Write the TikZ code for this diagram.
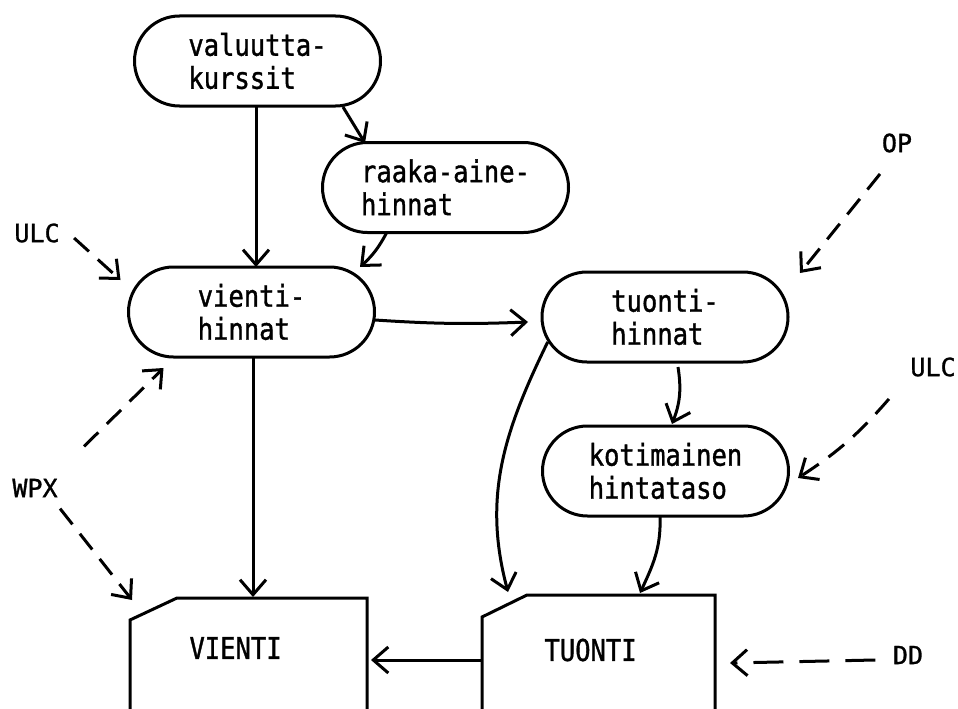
\documentclass[tikz,border=0pt]{standalone}
\usepackage{fontspec}
\newfontfamily\twfont[FakeStretch=0.85,FakeBold=1.2]{DejaVu Sans Mono}
\newfontfamily\lblfont[FakeBold=1.2]{DejaVu Sans Mono}
\usetikzlibrary{arrows.meta,shapes.misc,calc}
\begin{document}
\begin{tikzpicture}[x=1pt,y=-1pt,line width=3pt,
  pill/.style={rounded rectangle, draw, line width=3pt, minimum height=90pt,
    minimum width=246pt, align=left, inner sep=0pt,
    font=\twfont\fontsize{30}{33}\selectfont},
  conn/.style={-{Straight Barb[length=15pt,width=26pt]}, line width=3pt},
  dconn/.style={conn, dash pattern=on 20pt off 12pt},
  lbl/.style={font=\lblfont\fontsize{25}{27}\selectfont, inner sep=0pt},
  boxtxt/.style={font=\twfont\fontsize{30}{33}\selectfont, inner sep=0pt, anchor=west}
]
\useasboundingbox (0,0) rectangle (958,709);

% rounded nodes
\node[pill] (valuutta) at (257.5,61) {valuutta-\\kurssit};
\node[pill] (raaka) at (445.5,187.5) {raaka-aine-\\hinnat};
\node[pill] (vienti) at (251.5,312) {vienti-\\hinnat};
\node[pill] (tuonti) at (665,317) {tuonti-\\hinnat};
\node[pill] (koti) at (665.5,471) {kotimainen\\hintataso};

% card boxes
\node[boxtxt] (vientitxt) at (188,648) {VIENTI};
\node[boxtxt] (tuontitxt) at (543,650) {TUONTI};
\draw ($(vientitxt.west)+(-58,61)$) -- ($(vientitxt.west)+(-58,-28)$)
  -- ($(vientitxt.west)+(-11,-50)$) -- ($(vientitxt.west)+(179,-50)$)
  -- ($(vientitxt.west)+(179,61)$);
\draw ($(tuontitxt.west)+(-61,59)$) -- ($(tuontitxt.west)+(-61,-33)$)
  -- ($(tuontitxt.west)+(-16,-55)$) -- ($(tuontitxt.west)+(172,-55)$)
  -- ($(tuontitxt.west)+(172,59)$);

% labels
\node[lbl] (ulcL) at (37,233) {ULC};
\node[lbl] (wpx) at (35,488) {WPX};
\node[lbl] (op) at (897,143) {OP};
\node[lbl] (ulcR) at (933,367) {ULC};
\node[lbl] (dd) at (908,655) {DD};

% solid connectors
\draw[conn] ($(valuutta.center)+(-1.5,46)$) -- ($(vienti.center)+(4.5,-45)$);
\draw[conn] ($(valuutta.center)+(85.5,46)$) -- ($(raaka.center)+(-80.5,-44.5)$);
\draw[conn] ($(raaka.center)+(-58.5,44.5)$) to[bend left=10] ($(vienti.center)+(108.5,-45)$);
\draw[conn] ($(vienti.center)+(123.5,8)$) to[bend right=3] ($(tuonti.center)+(-137,5)$);
\draw[conn] ($(tuonti.center)+(13,50)$) to[bend left=15] ($(koti.center)+(6.5,-47)$);
\draw[conn] (tuonti.192) to[out=244,in=105] ($(tuontitxt.west)+(-35,-58)$);
\draw[conn] ($(koti.center)+(-5.5,46)$) to[out=-88,in=65] ($(tuontitxt.west)+(97,-57)$);
\draw[conn] ($(vienti.center)+(1.5,45)$) -- ($(vientitxt.west)+(65,-51)$);
\draw[conn] ($(tuontitxt.west)+(-61,10)$) -- ($(vientitxt.west)+(183,12)$);

% dashed connectors
\draw[dconn] ($(ulcL.east)+(13,5)$) -- ($(vienti.center)+(-131,-32)$);
\draw[dconn] ($(wpx.north east)+(25,-31)$) -- ($(vienti.center)+(-88,56)$);
\draw[dconn] ($(wpx.south east)+(1,10)$) -- ($(vientitxt.west)+(-56,-48)$);
\draw[dconn] ($(op.south)+(-17,20)$) -- ($(tuonti.center)+(135,-44)$);
\draw[dconn] ($(ulcR.south west)+(-20,21)$) to[bend left=8] ($(koti.center)+(132.5,7)$);
\draw[conn, dash pattern=on 30pt off 16pt] ($(dd.west)+(-16,5)$) -- ($(tuontitxt.west)+(187,13)$);
\end{tikzpicture}
\end{document}
